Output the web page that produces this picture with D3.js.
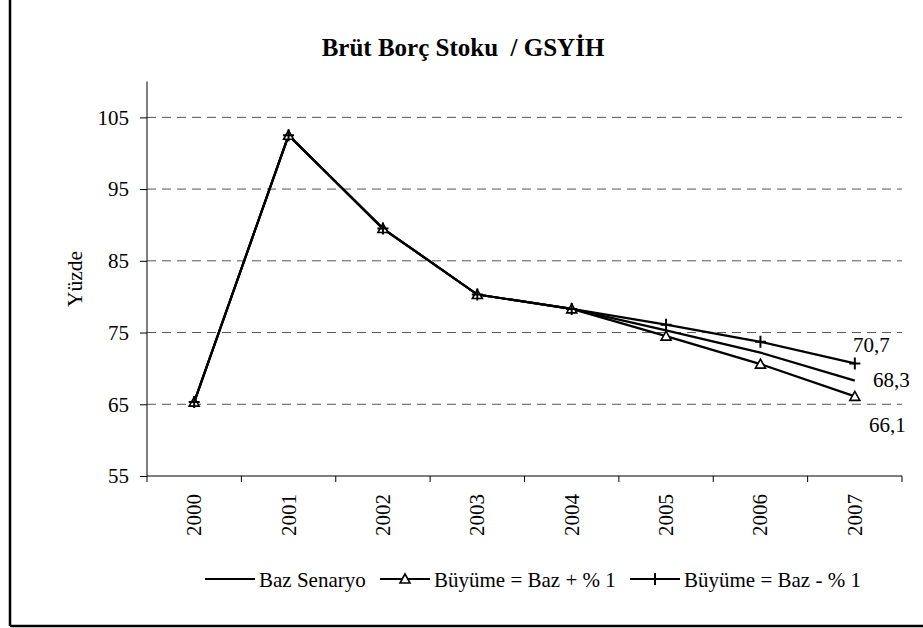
<!DOCTYPE html>
<html>
<head>
<meta charset="utf-8">
<script src="https://cdn.jsdelivr.net/npm/d3@7"></script>
<style>
  html, body { margin: 0; padding: 0; background: #fff; }
  svg text { font-family: "Times New Roman", "Liberation Serif", Tinos, "DejaVu Serif", serif; }
</style>
</head>
<body>
<svg id="chart" width="923" height="628" style="display:block"></svg>
<script>
const years = ["2000", "2001", "2002", "2003", "2004", "2005", "2006", "2007"];
const bazSenaryo = [65.3, 102.5, 89.5, 80.3, 78.3, 75.3, 72.2, 68.3];
const buyumePlus = [65.3, 102.5, 89.5, 80.3, 78.3, 74.5, 70.6, 66.1];
const buyumeMinus = [65.3, 102.5, 89.5, 80.3, 78.3, 76.1, 73.7, 70.7];
const yTicks = [55, 65, 75, 85, 95, 105];
const seriesNames = ["Baz Senaryo", "Büyüme = Baz + % 1", "Büyüme = Baz - % 1"];
const endLabels = ["68,3", "66,1", "70,7"];

const svg = d3.select("#chart");
const pLeft = 147, pRight = 902, pTop = 81.5, pBottom = 476;
const FONT = '"Times New Roman", "Liberation Serif", Tinos, "DejaVu Serif", serif';

// outer frame
svg.append("line").attr("x1", 10).attr("x2", 10).attr("y1", 0).attr("y2", 626)
  .attr("stroke", "#000").attr("stroke-width", 2.5);
svg.append("line").attr("x1", 10).attr("x2", 923).attr("y1", 626).attr("y2", 626)
  .attr("stroke", "#000").attr("stroke-width", 2.5);

const x = d3.scaleBand().domain(years).range([pLeft, pRight]);
const y = d3.scaleLinear().domain([55, 110]).range([pBottom, pTop]);
const cx = d => x(d) + x.bandwidth() / 2;

// title
svg.append("text").attr("x", 463).attr("y", 56).attr("text-anchor", "middle")
  .attr("font-family", FONT)
  .attr("font-size", 25).attr("font-weight", "bold").attr("xml:space", "preserve")
  .text("Brüt Borç Stoku  / GSYİH");

// gridlines
svg.append("g").selectAll("line").data(yTicks.filter(t => t > 55)).join("line")
  .attr("x1", pLeft).attr("x2", pRight)
  .attr("y1", d => y(d)).attr("y2", d => y(d))
  .attr("stroke", "#555").attr("stroke-width", 1).attr("stroke-dasharray", "9,6");

// y axis
const yAxis = svg.append("g").attr("transform", `translate(${pLeft},0)`)
  .call(d3.axisLeft(y).tickValues(yTicks).tickSize(7).tickPadding(11).tickFormat(d3.format("d")));
yAxis.attr("font-family", FONT);
yAxis.select(".domain").attr("d", `M0,${pTop}V${pBottom}`).attr("stroke", "#000");
yAxis.selectAll("text").attr("font-size", 21).attr("font-family", FONT).attr("fill", "#000");

// x axis
const xAxis = svg.append("g").attr("transform", `translate(0,${pBottom})`)
  .call(d3.axisBottom(x).tickSize(0).tickFormat(""));
xAxis.select(".domain").attr("d", `M${pLeft},0H${pRight}`).attr("stroke", "#000");
svg.append("g").selectAll("line").data(years.concat(["end"])).join("line")
  .attr("x1", (d, i) => pLeft + i * x.step()).attr("x2", (d, i) => pLeft + i * x.step())
  .attr("y1", pBottom).attr("y2", pBottom + 6).attr("stroke", "#000");
svg.append("g").selectAll("text").data(years).join("text")
  .attr("transform", d => `translate(${cx(d)},494) rotate(-90)`)
  .attr("text-anchor", "end").attr("dy", "0.33em").attr("font-size", 21)
  .attr("font-family", FONT)
  .text(d => d);

// y title
svg.append("text").attr("transform", "translate(75,279) rotate(-90)")
  .attr("font-family", FONT)
  .attr("text-anchor", "middle").attr("dy", "0.33em").attr("font-size", 21.5).text("Yüzde");

// lines
const line = d3.line().x((d, i) => cx(years[i])).y(d => y(d));
const seriesData = [bazSenaryo, buyumePlus, buyumeMinus];
seriesData.forEach(s => {
  svg.append("path").datum(s).attr("d", line).attr("fill", "none")
    .attr("stroke", "#000").attr("stroke-width", 2.2).attr("stroke-linejoin", "miter");
});

function triangle(g, px, py) {
  g.append("path").attr("d", `M${px},${py - 5}L${px + 5},${py + 4}L${px - 5},${py + 4}Z`)
    .attr("fill", "#fff").attr("stroke", "#000").attr("stroke-width", 1.6);
}
function cross(g, px, py) {
  g.append("path").attr("d", `M${px - 5.5},${py}H${px + 5.5}M${px},${py - 6}V${py + 6}`)
    .attr("stroke", "#000").attr("stroke-width", 2).attr("fill", "none");
}
const mk = svg.append("g");
buyumePlus.forEach((v, i) => triangle(mk, cx(years[i]), y(v)));
buyumeMinus.forEach((v, i) => cross(mk, cx(years[i]), y(v)));

// end labels
const lbl = svg.append("g").attr("font-size", 21).attr("font-family", FONT);
lbl.append("text").attr("x", 873).attr("y", 387).text(endLabels[0]);
lbl.append("text").attr("x", 869).attr("y", 432).text(endLabels[1]);
lbl.append("text").attr("x", 853).attr("y", 352).text(endLabels[2]);

// legend
const lg = svg.append("g").attr("font-size", 21).attr("font-family", FONT);
const legItems = [
  { x0: 205, name: seriesNames[0], m: null },
  { x0: 380, name: seriesNames[1], m: triangle },
  { x0: 630, name: seriesNames[2], m: cross }
];
legItems.forEach(it => {
  lg.append("line").attr("x1", it.x0).attr("x2", it.x0 + 50).attr("y1", 579).attr("y2", 579)
    .attr("stroke", "#000").attr("stroke-width", 2.2);
  if (it.m) it.m(lg, it.x0 + 25, 579);
  lg.append("text").attr("x", it.x0 + 54).attr("y", 586.5).text(it.name);
});
</script>
</body>
</html>
